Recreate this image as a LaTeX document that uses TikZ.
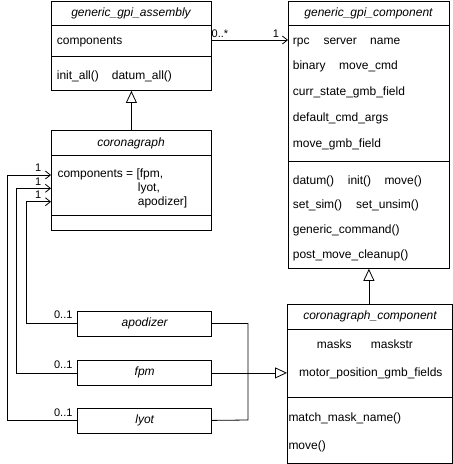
\documentclass[tikz,border=0pt]{standalone}
\usepackage{fontspec}
\setmainfont{Liberation Sans}
\usetikzlibrary{arrows.meta}
\begin{document}
\begin{tikzpicture}[x=1pt,y=-1pt,
 box/.style={draw, line width=0.8pt, inner sep=0, anchor=north west},
 txt/.style={inner sep=0, anchor=west, font=\fontsize{12}{14}\selectfont, text height=8.6pt, text depth=2.5pt},
 ttl/.style={txt, anchor=center, font=\fontsize{12}{14}\selectfont\itshape},
 mult/.style={inner sep=0, anchor=center, font=\fontsize{11}{13}\selectfont, text height=7.9pt, text depth=0pt},
 assoc/.style={line width=0.8pt, -{Straight Barb[length=5pt,width=8pt]}},
 inherit/.style={line width=0.8pt, -{Triangle[open,length=12pt,width=11pt,fill=white]}},
 conn/.style={line width=0.8pt}]
\useasboundingbox (0,0) rectangle (453,464);

% ---------- boxes ----------
\node[box, minimum width=160pt, minimum height=89.5pt] (asm) at (51,0.6) {};
\node[box, minimum width=160pt, minimum height=100pt] (cor) at (51,130) {};
\node[box, minimum width=161pt, minimum height=267.4pt] (comp) at (288,0.6) {};
\node[box, minimum width=164.6pt, minimum height=159.4pt] (ccomp) at (287,303.5) {};
\node[box, minimum width=134pt, minimum height=25pt] (apod) at (77.3,310.5) {};
\node[box, minimum width=134pt, minimum height=25pt] (fpm) at (77.3,360) {};
\node[box, minimum width=134pt, minimum height=25pt] (lyot) at (77.3,407.5) {};

% ---------- dividers ----------
\draw[conn] (asm.west |- 0,25.7) -- (asm.east |- 0,25.7);
\draw[conn] (asm.west |- 0,56) -- (asm.east |- 0,56);
\draw[conn] (cor.west |- 0,155) -- (cor.east |- 0,155);
\draw[conn] (cor.west |- 0,215) -- (cor.east |- 0,215);
\draw[conn] (comp.west |- 0,25.7) -- (comp.east |- 0,25.7);
\draw[conn] (comp.west |- 0,161) -- (comp.east |- 0,161);
\draw[conn] (ccomp.west |- 0,329.3) -- (ccomp.east |- 0,329.3);
\draw[conn] (ccomp.west |- 0,397.3) -- (ccomp.east |- 0,397.3);

% ---------- texts ----------
\node[ttl] (asmT) at (131,13) {generic\_gpi\_assembly};
\node[txt] (asmA) at (56.7,41.3) {components};
\node[txt] (asmM1) at (56.7,76.7) {init\_all()};
\node[txt] (asmM2) at (111.7,76.7) {datum\_all()};

\node[ttl] (corT) at (131,143) {coronagraph};
\node[txt] (corA1) at (57.3,174) {components = [fpm,};
\node[txt] (corA2) at (137.7,188) {lyot,};
\node[txt] (corA3) at (137.7,202) {apodizer]};

\node[ttl] (compT) at (368.5,13) {generic\_gpi\_component};
\node[txt] (c1) at (292.7,41.3) {rpc};
\node[txt] (c2) at (323.3,41.3) {server};
\node[txt] (c3) at (370,41.3) {name};
\node[txt] (c4) at (292.7,66.7) {binary};
\node[txt] (c5) at (339,66.7) {move\_cmd};
\node[txt] (c6) at (292.7,92.3) {curr\_state\_gmb\_field};
\node[txt] (c7) at (292.7,118.3) {default\_cmd\_args};
\node[txt] (c8) at (292.7,144.3) {move\_gmb\_field};
\node[txt] (m1) at (292.7,181.7) {datum()};
\node[txt] (m2) at (347.7,181.7) {init()};
\node[txt] (m3) at (384.3,181.7) {move()};
\node[txt] (m4) at (292.7,205.5) {set\_sim()};
\node[txt] (m5) at (356,205.5) {set\_unsim()};
\node[txt] (m6) at (292.7,230) {generic\_command()};
\node[txt] (m7) at (292.7,255) {post\_move\_cleanup()};

\node[ttl] (ccompT) at (370,316.5) {coronagraph\_component};
\node[txt] (k1) at (316.7,345) {masks};
\node[txt] (k2) at (370.7,345) {maskstr};
\node[ttl, font=\fontsize{12}{14}\selectfont] (k3) at (370.8,373) {motor\_position\_gmb\_fields};
\node[txt] (k4) at (288.3,418) {match\_mask\_name()};
\node[txt] (k5) at (288.3,446.7) {move()};

\node[ttl] (apodT) at (apod.center) {apodizer};
\node[ttl] (fpmT) at (fpm.center) {fpm};
\node[ttl] (lyotT) at (lyot.center) {lyot};

% ---------- connectors ----------
\draw[inherit] (cor.north) -- (asm.south);
\draw[inherit] (ccomp.north -| comp.south) -- (comp.south);
\draw[assoc] (asm.east |- 0,40) -- (comp.west |- 0,40);
\node[mult] (l0s) at (220,34) {0..*};
\node[mult] (l1s) at (276,34) {1};

\draw[assoc] (lyot.west) -| (7.3,175) -- (cor.west |- 0,175);
\draw[assoc] (fpm.west) -| (16.7,188.3) -- (cor.west |- 0,188.3);
\draw[assoc] (apod.west) -| (26.7,201.7) -- (cor.west |- 0,201.7);
\node[mult] (n1a) at (38.3,168) {1};
\node[mult] (n1b) at (38.3,181.3) {1};
\node[mult] (n1c) at (38.3,194.7) {1};
\node[mult] (oa) at (63.3,315) {0..1};
\node[mult] (ob) at (63.3,364.3) {0..1};
\node[mult] (oc) at (63.3,413) {0..1};

\draw[conn] (apod.east) -| (248,420) -- (lyot.east);
\draw[inherit] (fpm.east) -- (ccomp.west |- fpm.east);
\end{tikzpicture}
\end{document}
